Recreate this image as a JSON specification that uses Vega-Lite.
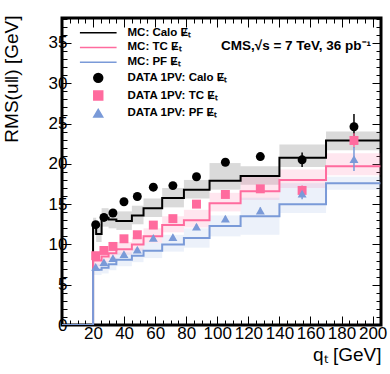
{
 "$schema": "https://vega.github.io/schema/vega-lite/v6.json",
 "width": 319, "height": 307,
 "autosize": {"type": "none"},
 "padding": {"left": 62, "top": 18, "right": 9, "bottom": 49},
 "background": "white",
 "config": {
  "font": "Liberation Sans",
  "view": {"stroke": "black", "strokeWidth": 3},
  "axis": {"domain": false, "grid": false, "tickColor": "black", "tickWidth": 1, "labelColor": "black", "titleColor": "black", "labelFont": "Liberation Sans", "titleFont": "Liberation Sans", "labelFontSize": 17, "titleFontSize": 19, "titleFontWeight": "normal", "labelOverlap": false, "labelFlush": false, "labelBound": false}
 },
 "datasets": {
  "mc": [
   {"entry": "MC: Calo Ɇₜ", "lo": 0, "hi": 20, "val": 0, "blo": 0, "bhi": 0},
   {"entry": "MC: Calo Ɇₜ", "lo": 20, "hi": 22, "val": 12.2, "blo": 11.2, "bhi": 13.3},
   {"entry": "MC: Calo Ɇₜ", "lo": 22, "hi": 25.5, "val": 11.3, "blo": 10.3, "bhi": 12.5},
   {"entry": "MC: Calo Ɇₜ", "lo": 25.5, "hi": 30, "val": 13.3, "blo": 12.2, "bhi": 14.5},
   {"entry": "MC: Calo Ɇₜ", "lo": 30, "hi": 35, "val": 13.1, "blo": 12.0, "bhi": 14.3},
   {"entry": "MC: Calo Ɇₜ", "lo": 35, "hi": 45, "val": 12.9, "blo": 11.8, "bhi": 14.1},
   {"entry": "MC: Calo Ɇₜ", "lo": 45, "hi": 52.5, "val": 13.6, "blo": 12.5, "bhi": 14.8},
   {"entry": "MC: Calo Ɇₜ", "lo": 52.5, "hi": 64.5, "val": 14.5, "blo": 13.4, "bhi": 15.7},
   {"entry": "MC: Calo Ɇₜ", "lo": 64.5, "hi": 78.5, "val": 15.75, "blo": 14.6, "bhi": 17.0},
   {"entry": "MC: Calo Ɇₜ", "lo": 78.5, "hi": 95, "val": 16.8, "blo": 15.7, "bhi": 18.0},
   {"entry": "MC: Calo Ɇₜ", "lo": 95, "hi": 115, "val": 17.9, "blo": 16.8, "bhi": 20.1},
   {"entry": "MC: Calo Ɇₜ", "lo": 115, "hi": 140, "val": 18.5, "blo": 17.4, "bhi": 19.7},
   {"entry": "MC: Calo Ɇₜ", "lo": 140, "hi": 170, "val": 20.75, "blo": 19.6, "bhi": 22.4},
   {"entry": "MC: Calo Ɇₜ", "lo": 170, "hi": 205, "val": 22.9, "blo": 21.7, "bhi": 24.0},
   {"entry": "MC: TC Ɇₜ", "lo": 0, "hi": 20, "val": 0, "blo": 0, "bhi": 0},
   {"entry": "MC: TC Ɇₜ", "lo": 20, "hi": 22, "val": 8.0, "blo": 7.3, "bhi": 8.8},
   {"entry": "MC: TC Ɇₜ", "lo": 22, "hi": 25.5, "val": 8.0, "blo": 7.3, "bhi": 8.8},
   {"entry": "MC: TC Ɇₜ", "lo": 25.5, "hi": 30, "val": 8.5, "blo": 7.8, "bhi": 9.3},
   {"entry": "MC: TC Ɇₜ", "lo": 30, "hi": 35, "val": 8.9, "blo": 8.2, "bhi": 9.7},
   {"entry": "MC: TC Ɇₜ", "lo": 35, "hi": 45, "val": 9.4, "blo": 8.7, "bhi": 10.3},
   {"entry": "MC: TC Ɇₜ", "lo": 45, "hi": 52.5, "val": 10.0, "blo": 9.2, "bhi": 10.9},
   {"entry": "MC: TC Ɇₜ", "lo": 52.5, "hi": 64.5, "val": 11.0, "blo": 10.2, "bhi": 12.0},
   {"entry": "MC: TC Ɇₜ", "lo": 64.5, "hi": 78.5, "val": 12.4, "blo": 11.5, "bhi": 13.5},
   {"entry": "MC: TC Ɇₜ", "lo": 78.5, "hi": 95, "val": 13.0, "blo": 12.1, "bhi": 14.3},
   {"entry": "MC: TC Ɇₜ", "lo": 95, "hi": 115, "val": 15.1, "blo": 14.1, "bhi": 16.4},
   {"entry": "MC: TC Ɇₜ", "lo": 115, "hi": 140, "val": 16.6, "blo": 15.5, "bhi": 18.6},
   {"entry": "MC: TC Ɇₜ", "lo": 140, "hi": 170, "val": 18.0, "blo": 17.0, "bhi": 19.3},
   {"entry": "MC: TC Ɇₜ", "lo": 170, "hi": 205, "val": 19.7, "blo": 18.6, "bhi": 21.3},
   {"entry": "MC: PF Ɇₜ", "lo": 0, "hi": 20, "val": 0, "blo": 0, "bhi": 0},
   {"entry": "MC: PF Ɇₜ", "lo": 20, "hi": 22, "val": 6.85, "blo": 6.2, "bhi": 7.6},
   {"entry": "MC: PF Ɇₜ", "lo": 22, "hi": 25.5, "val": 6.85, "blo": 6.2, "bhi": 7.6},
   {"entry": "MC: PF Ɇₜ", "lo": 25.5, "hi": 30, "val": 7.1, "blo": 6.4, "bhi": 7.9},
   {"entry": "MC: PF Ɇₜ", "lo": 30, "hi": 35, "val": 7.55, "blo": 6.8, "bhi": 8.4},
   {"entry": "MC: PF Ɇₜ", "lo": 35, "hi": 45, "val": 8.1, "blo": 7.3, "bhi": 9.0},
   {"entry": "MC: PF Ɇₜ", "lo": 45, "hi": 52.5, "val": 8.6, "blo": 7.8, "bhi": 9.5},
   {"entry": "MC: PF Ɇₜ", "lo": 52.5, "hi": 64.5, "val": 9.2, "blo": 8.3, "bhi": 10.2},
   {"entry": "MC: PF Ɇₜ", "lo": 64.5, "hi": 78.5, "val": 10.0, "blo": 9.1, "bhi": 11.2},
   {"entry": "MC: PF Ɇₜ", "lo": 78.5, "hi": 95, "val": 10.8, "blo": 9.6, "bhi": 12.0},
   {"entry": "MC: PF Ɇₜ", "lo": 95, "hi": 115, "val": 12.3, "blo": 11.0, "bhi": 13.6},
   {"entry": "MC: PF Ɇₜ", "lo": 115, "hi": 140, "val": 13.5, "blo": 11.2, "bhi": 15.8},
   {"entry": "MC: PF Ɇₜ", "lo": 140, "hi": 170, "val": 15.0, "blo": 13.9, "bhi": 17.6},
   {"entry": "MC: PF Ɇₜ", "lo": 170, "hi": 205, "val": 17.6, "blo": 16.8, "bhi": 18.4}
  ],
  "pts": [
   {"entry": "DATA 1PV: Calo Ɇₜ", "q": 21.7, "val": 12.45, "elo": 12.25, "ehi": 12.65},
   {"entry": "DATA 1PV: Calo Ɇₜ", "q": 27.0, "val": 13.35, "elo": 13.15, "ehi": 13.55},
   {"entry": "DATA 1PV: Calo Ɇₜ", "q": 32.8, "val": 13.9, "elo": 13.7, "ehi": 14.1},
   {"entry": "DATA 1PV: Calo Ɇₜ", "q": 39.9, "val": 15.3, "elo": 15.1, "ehi": 15.5},
   {"entry": "DATA 1PV: Calo Ɇₜ", "q": 48.5, "val": 15.95, "elo": 15.75, "ehi": 16.15},
   {"entry": "DATA 1PV: Calo Ɇₜ", "q": 58.8, "val": 17.1, "elo": 16.85, "ehi": 17.35},
   {"entry": "DATA 1PV: Calo Ɇₜ", "q": 71.4, "val": 17.3, "elo": 17.0, "ehi": 17.6},
   {"entry": "DATA 1PV: Calo Ɇₜ", "q": 86.6, "val": 18.4, "elo": 18.1, "ehi": 18.7},
   {"entry": "DATA 1PV: Calo Ɇₜ", "q": 105.2, "val": 20.2, "elo": 19.8, "ehi": 20.6},
   {"entry": "DATA 1PV: Calo Ɇₜ", "q": 127.7, "val": 20.9, "elo": 20.4, "ehi": 21.4},
   {"entry": "DATA 1PV: Calo Ɇₜ", "q": 154.6, "val": 20.5, "elo": 19.6, "ehi": 21.4},
   {"entry": "DATA 1PV: Calo Ɇₜ", "q": 188.0, "val": 24.6, "elo": 23.0, "ehi": 26.2},
   {"entry": "DATA 1PV: TC Ɇₜ", "q": 21.7, "val": 8.6, "elo": 8.4, "ehi": 8.8},
   {"entry": "DATA 1PV: TC Ɇₜ", "q": 27.0, "val": 9.25, "elo": 9.05, "ehi": 9.45},
   {"entry": "DATA 1PV: TC Ɇₜ", "q": 32.8, "val": 9.75, "elo": 9.55, "ehi": 9.95},
   {"entry": "DATA 1PV: TC Ɇₜ", "q": 39.9, "val": 10.7, "elo": 10.5, "ehi": 10.9},
   {"entry": "DATA 1PV: TC Ɇₜ", "q": 48.5, "val": 11.2, "elo": 11.0, "ehi": 11.4},
   {"entry": "DATA 1PV: TC Ɇₜ", "q": 58.8, "val": 12.4, "elo": 12.15, "ehi": 12.65},
   {"entry": "DATA 1PV: TC Ɇₜ", "q": 71.4, "val": 13.2, "elo": 12.9, "ehi": 13.5},
   {"entry": "DATA 1PV: TC Ɇₜ", "q": 86.6, "val": 15.0, "elo": 14.7, "ehi": 15.3},
   {"entry": "DATA 1PV: TC Ɇₜ", "q": 105.2, "val": 16.2, "elo": 15.85, "ehi": 16.55},
   {"entry": "DATA 1PV: TC Ɇₜ", "q": 127.7, "val": 16.9, "elo": 16.5, "ehi": 17.3},
   {"entry": "DATA 1PV: TC Ɇₜ", "q": 154.6, "val": 16.7, "elo": 16.1, "ehi": 17.3},
   {"entry": "DATA 1PV: TC Ɇₜ", "q": 188.0, "val": 22.9, "elo": 22.0, "ehi": 23.8},
   {"entry": "DATA 1PV: PF Ɇₜ", "q": 21.7, "val": 7.2, "elo": 7.0, "ehi": 7.4},
   {"entry": "DATA 1PV: PF Ɇₜ", "q": 27.0, "val": 7.8, "elo": 7.6, "ehi": 8.0},
   {"entry": "DATA 1PV: PF Ɇₜ", "q": 32.8, "val": 8.3, "elo": 8.1, "ehi": 8.5},
   {"entry": "DATA 1PV: PF Ɇₜ", "q": 39.9, "val": 8.8, "elo": 8.6, "ehi": 9.0},
   {"entry": "DATA 1PV: PF Ɇₜ", "q": 48.5, "val": 9.35, "elo": 9.15, "ehi": 9.55},
   {"entry": "DATA 1PV: PF Ɇₜ", "q": 58.8, "val": 10.8, "elo": 10.55, "ehi": 11.05},
   {"entry": "DATA 1PV: PF Ɇₜ", "q": 71.4, "val": 10.9, "elo": 10.6, "ehi": 11.2},
   {"entry": "DATA 1PV: PF Ɇₜ", "q": 86.6, "val": 12.2, "elo": 11.9, "ehi": 12.5},
   {"entry": "DATA 1PV: PF Ɇₜ", "q": 105.2, "val": 13.2, "elo": 12.85, "ehi": 13.55},
   {"entry": "DATA 1PV: PF Ɇₜ", "q": 127.7, "val": 14.2, "elo": 13.8, "ehi": 14.6},
   {"entry": "DATA 1PV: PF Ɇₜ", "q": 154.6, "val": 16.3, "elo": 15.6, "ehi": 17.0},
   {"entry": "DATA 1PV: PF Ɇₜ", "q": 188.0, "val": 20.6, "elo": 19.1, "ehi": 22.1}
  ]
 },
 "resolve": {"axis": {"x": "independent", "y": "independent"}},
 "layer": [
  {
   "data": {"name": "mc"},
   "mark": {"type": "rect", "fillOpacity": 0.22, "clip": true},
   "encoding": {
    "x": {"field": "lo", "type": "quantitative", "scale": {"domain": [0, 205.4], "nice": false, "zero": false},
     "axis": {"orient": "bottom", "values": [0,5,10,15,20,25,30,35,40,45,50,55,60,65,70,75,80,85,90,95,100,105,110,115,120,125,130,135,140,145,150,155,160,165,170,175,180,185,190,195,200,205],
      "labelExpr": "datum.value % 20 === 0 && datum.value > 0 ? datum.label : ''",
      "tickSize": {"condition": {"test": "datum.value % 20 === 0", "value": -9}, "value": -5},
      "labelPadding": 9, "labelBaseline": "top",
      "title": "qₜ [GeV]", "titleX": 319, "titleY": 35, "titleAlign": "right", "titleAnchor": "end", "titleBaseline": "alphabetic"}},
    "x2": {"field": "hi"},
    "y": {"field": "blo", "type": "quantitative", "scale": {"domain": [0, 38.1], "nice": false, "zero": false},
     "axis": {"orient": "left", "values": [0,1,2,3,4,5,6,7,8,9,10,11,12,13,14,15,16,17,18,19,20,21,22,23,24,25,26,27,28,29,30,31,32,33,34,35,36,37,38],
      "labelExpr": "datum.value % 5 === 0 ? datum.label : ''",
      "tickSize": {"condition": {"test": "datum.value % 5 === 0", "value": -9}, "value": -5},
      "labelPadding": 4,
      "title": "RMS(u‖) [GeV]", "titleAngle": -90, "titleX": -60, "titleY": -3, "titleAlign": "right", "titleBaseline": "top", "titleAnchor": "end"}},
    "y2": {"field": "bhi"},
    "fill": {"field": "entry", "type": "nominal", "legend": null,
     "scale": {"domain": ["MC: Calo Ɇₜ", "MC: TC Ɇₜ", "MC: PF Ɇₜ"], "range": ["#555555", "#ff8fb5", "#a8bde6"]}}
   }
  },
  {
   "data": {"name": "mc"},
   "transform": [{"fold": ["lo", "hi"], "as": ["edge", "q"]}],
   "mark": {"type": "line", "strokeWidth": 2, "clip": true},
   "encoding": {
    "x": {"field": "q", "type": "quantitative", "scale": {"domain": [0, 205.4], "nice": false, "zero": false}, "axis": null},
    "y": {"field": "val", "type": "quantitative", "scale": {"domain": [0, 38.1], "nice": false, "zero": false}, "axis": null},
    "color": {"field": "entry", "type": "nominal",
     "scale": {"domain": ["MC: Calo Ɇₜ", "MC: TC Ɇₜ", "MC: PF Ɇₜ", "DATA 1PV: Calo Ɇₜ", "DATA 1PV: TC Ɇₜ", "DATA 1PV: PF Ɇₜ"], "range": ["#000000", "#ff6b9e", "#7a9ad8", "#000000", "#ff6b9e", "#7a9ad8"]},
     "legend": {"title": null, "orient": "none", "direction": "vertical", "legendX": 30.5, "legendY": 9, "padding": 0, "rowPadding": 1.7, "symbolSize": 80, "symbolStrokeWidth": 1.5, "labelOffset": 23.5, "labelFontSize": 11.5, "labelFontWeight": "bold", "labelFont": "Liberation Sans", "labelColor": "black", "labelLimit": 0}},
    "order": [{"field": "q", "type": "quantitative"}, {"field": "edge", "type": "nominal"}]
   }
  },
  {
   "data": {"name": "pts"},
   "mark": {"type": "rule", "strokeWidth": 1.5},
   "encoding": {
    "x": {"field": "q", "type": "quantitative", "scale": {"domain": [0, 205.4], "nice": false, "zero": false}, "axis": null},
    "y": {"field": "elo", "type": "quantitative", "scale": {"domain": [0, 38.1], "nice": false, "zero": false}, "axis": null},
    "y2": {"field": "ehi"},
    "color": {"field": "entry", "type": "nominal"}
   }
  },
  {
   "data": {"name": "pts"},
   "mark": {"type": "point", "filled": true, "size": 80, "opacity": 1},
   "encoding": {
    "x": {"field": "q", "type": "quantitative", "scale": {"domain": [0, 205.4], "nice": false, "zero": false}, "axis": null},
    "y": {"field": "val", "type": "quantitative", "scale": {"domain": [0, 38.1], "nice": false, "zero": false}, "axis": null},
    "color": {"field": "entry", "type": "nominal"},
    "shape": {"field": "entry", "type": "nominal",
     "scale": {"domain": ["MC: Calo Ɇₜ", "MC: TC Ɇₜ", "MC: PF Ɇₜ", "DATA 1PV: Calo Ɇₜ", "DATA 1PV: TC Ɇₜ", "DATA 1PV: PF Ɇₜ"], "range": ["M-4.1,0H4.1", "M-4.1,0H4.1", "M-4.1,0H4.1", "circle", "square", "triangle-up"]}}
   }
  },
  {
   "data": {"values": [{"label": "CMS,√s = 7 TeV, 36 pb⁻¹"}]},
   "mark": {"type": "text", "align": "right", "baseline": "middle", "fontWeight": "bold", "fontSize": 13.5, "font": "Liberation Sans", "color": "black"},
   "encoding": {
    "text": {"field": "label"},
    "x": {"datum": 199, "type": "quantitative", "scale": {"domain": [0, 205.4], "nice": false, "zero": false},
     "axis": {"orient": "top", "values": [0,5,10,15,20,25,30,35,40,45,50,55,60,65,70,75,80,85,90,95,100,105,110,115,120,125,130,135,140,145,150,155,160,165,170,175,180,185,190,195,200,205], "labels": false, "title": null,
      "tickSize": {"condition": {"test": "datum.value % 20 === 0", "value": -9}, "value": -5}}},
    "y": {"datum": 34.6, "type": "quantitative", "scale": {"domain": [0, 38.1], "nice": false, "zero": false},
     "axis": {"orient": "right", "values": [0,1,2,3,4,5,6,7,8,9,10,11,12,13,14,15,16,17,18,19,20,21,22,23,24,25,26,27,28,29,30,31,32,33,34,35,36,37,38], "labels": false, "title": null,
      "tickSize": {"condition": {"test": "datum.value % 5 === 0", "value": -9}, "value": -5}}}
   }
  }
 ]
}
